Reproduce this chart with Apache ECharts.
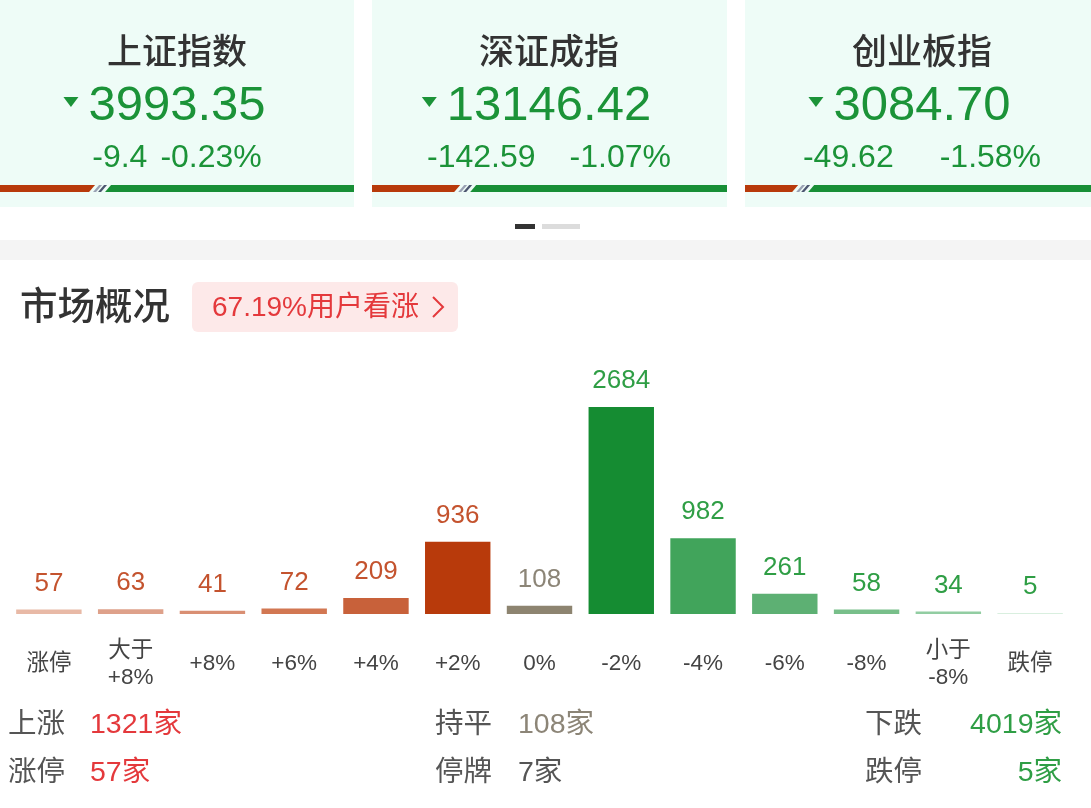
<!DOCTYPE html>
<html><head><meta charset="utf-8">
<script src="https://cdn.jsdelivr.net/npm/echarts@6/dist/echarts.min.js"></script>
<style>html,body{margin:0;padding:0;background:#fff}#c{width:1091px;height:808px}</style>
</head><body><div id="c"></div>
<script>
// ---- data ----
const indexNames = ['上证指数', '深证成指', '创业板指'];
const indexValues = ['3993.35', '13146.42', '3084.70'];
const indexChanges = ['-9.4', '-142.59', '-49.62'];
const indexPcts = ['-0.23%', '-1.07%', '-1.58%'];
const upShare = [0.26, 0.24, 0.145];
const categories = ['涨停', '大于\n+8%', '+8%', '+6%', '+4%', '+2%', '0%', '-2%', '-4%', '-6%', '-8%', '小于\n-8%', '跌停'];
const counts = [57, 63, 41, 72, 209, 936, 108, 2684, 982, 261, 58, 34, 5];
const bullishText = '67.19%用户看涨';
const statLabels = [['上涨', '涨停'], ['持平', '停牌'], ['下跌', '跌停']];
const statValues = [['1321家', '57家'], ['108家', '7家'], ['4019家', '5家']];

// ---- styles ----
const barColors = ['#e8b9a6', '#dea18a', '#d98f73', '#d27752', '#c8613a', '#b83a0b', '#8d8470',
  '#158c32', '#41a45b', '#5db073', '#78bf8a', '#92cda2', '#d9efdf'];
const labelColors = ['#c4532e', '#c4532e', '#c4532e', '#c4532e', '#c4532e', '#c4532e', '#8c8577',
  '#2f9e45', '#2f9e45', '#2f9e45', '#2f9e45', '#2f9e45', '#2f9e45'];
const FF = '"Liberation Sans", "Noto Sans CJK SC", sans-serif';
const GREEN = '#1b9338';

const cardX = [0, 372, 745];
const cardW = [354, 355, 346];
const cardCx = [177, 549, 922];
const chgGap = [13, 34, 46];

const mctx = document.createElement('canvas').getContext('2d');
function tw(text, font) { mctx.font = font; return mctx.measureText(text).width; }

const g = [];
function txt(text, x, y, size, fill, align, weight) {
  g.push({ type: 'text', silent: true, style: { text, x, y, fill,
    font: (weight || 'normal') + ' ' + size + 'px ' + FF,
    textAlign: align || 'left', textVerticalAlign: 'middle', align: align || 'left', verticalAlign: 'middle' } });
}
for (let i = 0; i < 3; i++) {
  const x0 = cardX[i], w = cardW[i], cx = cardCx[i];
  g.push({ type: 'rect', silent: true, shape: { x: x0, y: 0, width: w, height: 207 }, style: { fill: '#eefcf7' } });
  txt(indexNames[i], cx, 54, 35, '#333', 'center', '500');
  const numFont = 'normal 49px ' + FF;
  const nw = tw(indexValues[i], numFont);
  txt(indexValues[i], cx, 106, 49, GREEN, 'center');
  const tx = cx - nw / 2 - 10;
  g.push({ type: 'polygon', silent: true, shape: { points: [[tx - 15, 97], [tx, 97], [tx - 7.5, 107]] }, style: { fill: GREEN } });
  const cf = 'normal 32px ' + FF;
  const w1 = tw(indexChanges[i], cf), w2 = tw(indexPcts[i], cf);
  const total = w1 + chgGap[i] + w2;
  const sx = cx - total / 2;
  txt(indexChanges[i], sx, 158, 32, GREEN, 'left');
  txt(indexPcts[i], sx + w1 + chgGap[i], 158, 32, GREEN, 'left');
  const r = x0 + upShare[i] * w;
  const y1 = 185, y2 = 192;
  g.push({ type: 'polygon', silent: true, shape: { points: [[x0, y1], [r + 3, y1], [r - 3, y2], [x0, y2]] }, style: { fill: '#b83a0b' } });
  g.push({ type: 'polygon', silent: true, shape: { points: [[r + 7, y1], [r + 10, y1], [r + 4, y2], [r + 1, y2]] }, style: { fill: '#9aa2b4' } });
  g.push({ type: 'polygon', silent: true, shape: { points: [[r + 12, y1], [r + 15, y1], [r + 9, y2], [r + 6, y2]] }, style: { fill: '#4c5670' } });
  g.push({ type: 'polygon', silent: true, shape: { points: [[r + 19, y1], [x0 + w, y1], [x0 + w, y2], [r + 13, y2]] }, style: { fill: '#178f36' } });
}
g.push({ type: 'rect', silent: true, shape: { x: 515, y: 224, width: 20, height: 5 }, style: { fill: '#333' } });
g.push({ type: 'rect', silent: true, shape: { x: 542, y: 224, width: 38, height: 5 }, style: { fill: '#dcdcdc' } });
g.push({ type: 'rect', silent: true, shape: { x: 0, y: 240, width: 1091, height: 20 }, style: { fill: '#f4f4f4' } });
txt('市场概况', 20, 309, 37.5, '#333', 'left', '500');
g.push({ type: 'rect', silent: true, shape: { x: 192, y: 282, width: 266, height: 50, r: 6 }, style: { fill: '#fde9e9' } });
txt(bullishText, 212, 308, 28, '#e4393c', 'left');
g.push({ type: 'polyline', silent: true, shape: { points: [[433, 297], [443, 307], [433, 317]] }, style: { stroke: '#e4393c', lineWidth: 2, fill: null } });

const statX = [[8, 90, 'left'], [435, 518, 'left'], [865, 1062, 'right']];
const statColors = [['#e4393c', '#e4393c'], ['#8c8577', '#555'], ['#2f9e45', '#2f9e45']];
const rowY = [725, 773];
for (let c = 0; c < 3; c++) {
  for (let r = 0; r < 2; r++) {
    txt(statLabels[c][r], statX[c][0], rowY[r], 28.5, '#555', 'left');
    txt(statValues[c][r], statX[c][1], rowY[r], 28.5, statColors[c][r], statX[c][2]);
  }
}

const chart = echarts.init(document.getElementById('c'), null, { renderer: 'canvas' });
chart.setOption({
  animation: false,
  backgroundColor: '#fff',
  grid: { left: 8, right: 20, top: 407, bottom: 194, containLabel: false },
  xAxis: {
    type: 'category', data: categories,
    axisLine: { show: false }, axisTick: { show: false },
    axisLabel: { interval: 0, margin: 50, verticalAlign: 'middle', color: '#444', fontSize: 22.5, lineHeight: 27, fontFamily: FF }
  },
  yAxis: { type: 'value', min: 0, max: 2684, show: false, splitLine: { show: false } },
  series: [{
    type: 'bar', barCategoryGap: '20%', barMinHeight: 1,
    data: counts.map((v, i) => ({
      value: v,
      itemStyle: { color: barColors[i] },
      label: { color: labelColors[i] }
    })),
    label: { show: true, position: 'top', distance: 13, fontSize: 26, fontFamily: FF }
  }],
  graphic: { elements: g }
});
</script></body></html>
